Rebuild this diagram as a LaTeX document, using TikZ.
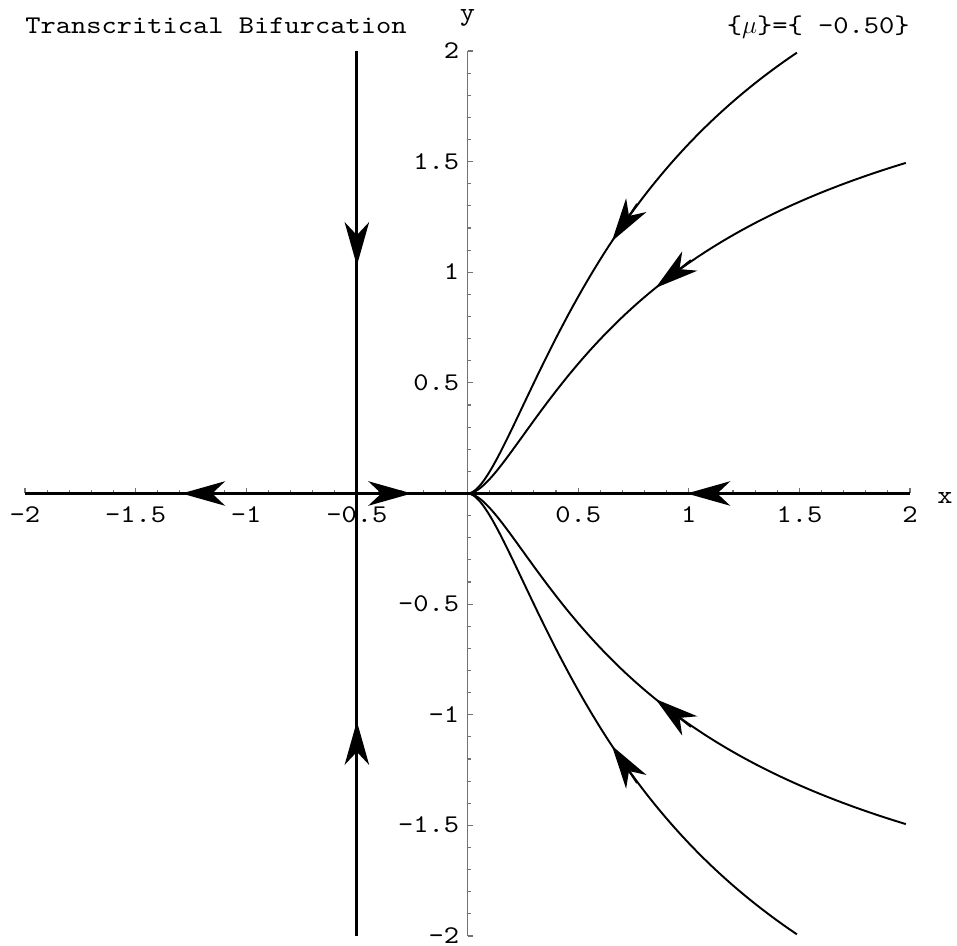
\documentclass[tikz,border=0pt]{standalone}
\usepackage{fontspec}
\newfontfamily\plotfont[FakeStretch=1.14]{lmmono10-regular.otf}
\usetikzlibrary{arrows.meta,calc}

\begin{document}
\begin{tikzpicture}[x=4.425cm,y=4.425cm,
    lbl/.style={font=\fontsize{14.5}{17}\plotfont,inner sep=0pt},
    axisgray/.style={black!55,line width=0.9pt},
    axtick/.style={black!55,line width=0.6pt},
    flowline/.style={line width=1.7pt},
    orbit/.style={line width=1.1pt},
    flowarrow/.style={line width=1.1pt,-{Stealth[length=0.87cm,width=0.49cm,inset=0.26cm]}}]

\useasboundingbox (-2.1130,-2.0452) rectangle (2.2124,2.2305);

% Axes with ticks
\draw[axisgray] (0,-2) -- (0,2);
\foreach \i in {-20,...,20} \draw[axtick] (0,\i/10) -- (0.016,\i/10);
\foreach \i in {-4,...,4} \draw[axtick] (0,\i/2) -- (0.027,\i/2);
\foreach \i in {-20,...,20} \draw[axtick] (\i/10,0) -- (\i/10,0.016);
\foreach \i in {-4,...,4} \draw[axtick] (\i/2,0) -- (\i/2,0.027);

% Tick labels
\foreach \v [count=\k] in {-2,-1.5,-1,-0.5,0.5,1,1.5,2}
  \node[lbl,anchor=base] (xtick\k) at (\v,-0.129) {\v};
\foreach \v [count=\k] in {-2,-1.5,-1,-0.5,0.5,1,1.5,2}
  \node[lbl,anchor=base east] (ytick\k) at (-0.036,\v-0.034) {\v};

\node[lbl,anchor=base] (xlabel) at (2.158,-0.043) {x};
\node[lbl,anchor=base] (ylabel) at (0,2.14) {y};

% Titles
\node[lbl,anchor=base west] (title) at (-2.0,2.081) {Transcritical Bifurcation};
\node[lbl,anchor=base east] (param) at (2.0,2.081) {\{$\mu$\}=\{ -0.50\}};

% Invariant lines
\draw[flowline] (-2,0) -- (2,0);
\draw[flowline] (-0.5,-2) -- (-0.5,2);

% Orbits into the origin
\draw[orbit] plot[domain=0:1,samples=150,smooth,variable=\s] ({\s/(8/3-2*\s)},{2*\s*\s});
\draw[orbit] plot[domain=0:1,samples=150,smooth,variable=\s] ({\s/(5/2-2*\s)},{1.5*\s*\s});
\draw[orbit] plot[domain=0:1,samples=150,smooth,variable=\s] ({\s/(5/2-2*\s)},{-1.5*\s*\s});
\draw[orbit] plot[domain=0:1,samples=150,smooth,variable=\s] ({\s/(8/3-2*\s)},{-2*\s*\s});

% Arrow tips on the axes
\coordinate (hl) at (-1.292,0);
\coordinate (hm) at (-0.252,0);
\coordinate (hr) at (0.991,0);
\coordinate (vt) at (-0.5,1.03);
\coordinate (vb) at (-0.5,-1.03);
\draw[flowarrow] ($(hl)+(0.2034,0)$) -- (hl);
\draw[flowarrow] ($(hm)+(-0.2034,0)$) -- (hm);
\draw[flowarrow] ($(hr)+(0.2034,0)$) -- (hr);
\draw[flowarrow] ($(vt)+(0,0.2034)$) -- (vt);
\draw[flowarrow] ($(vb)+(0,-0.2034)$) -- (vb);

% Arrow tips on the orbits
\coordinate (ua) at ({0.755/(8/3-2*0.755)},{2*0.755*0.755});
\coordinate (ua') at ({0.775/(8/3-2*0.775)},{2*0.775*0.775});
\coordinate (ub) at ({0.787/(5/2-2*0.787)},{1.5*0.787*0.787});
\coordinate (ub') at ({0.807/(5/2-2*0.807)},{1.5*0.807*0.807});
\coordinate (lb) at ({0.787/(5/2-2*0.787)},{-1.5*0.787*0.787});
\coordinate (lb') at ({0.807/(5/2-2*0.807)},{-1.5*0.807*0.807});
\coordinate (la) at ({0.755/(8/3-2*0.755)},{-2*0.755*0.755});
\coordinate (la') at ({0.775/(8/3-2*0.775)},{-2*0.775*0.775});
\draw[flowarrow] ($(ua)!0.9cm!(ua')$) -- (ua);
\draw[flowarrow] ($(ub)!0.9cm!(ub')$) -- (ub);
\draw[flowarrow] ($(lb)!0.9cm!(lb')$) -- (lb);
\draw[flowarrow] ($(la)!0.9cm!(la')$) -- (la);

\end{tikzpicture}
\end{document}
